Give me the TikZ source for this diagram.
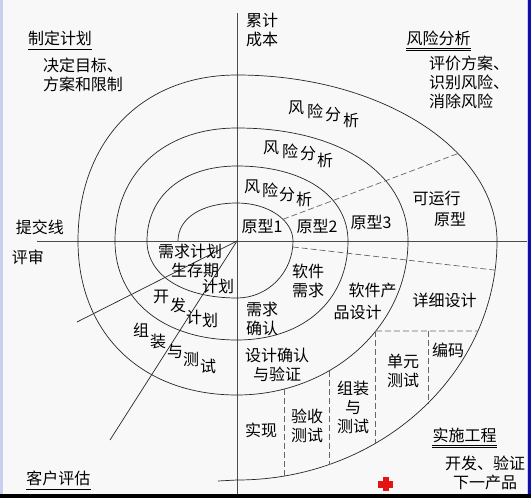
\documentclass[tikz,border=0pt]{standalone}
\usepackage{fontspec}
\setmainfont{Noto Sans CJK SC}
\definecolor{bgc}{RGB}{248,248,248}
\definecolor{leftc}{RGB}{200,208,240}
\definecolor{rightc}{RGB}{16,16,168}
\definecolor{plusred}{RGB}{228,20,20}
% quarter of the spiral, from the horizontal axis (x=#1) to the vertical axis (y=#2)
\newcommand{\spk}{0.6}
\newcommand{\qhv}[2]{.. controls (#1,{241+\spk*(#2-241)}) and ({237+\spk*(#1-237)},#2) .. (237,#2)}
% and from the vertical axis (y=#1) to the horizontal axis (x=#2)
\newcommand{\qvh}[2]{.. controls ({237+\spk*(#2-237)},#1) and (#2,{241+\spk*(#1-241)}) .. (#2,241)}
\tikzset{
  spiral/.style={line width=0.7pt, black!85},
  axis/.style={line width=0.7pt, black!70},
  dashln/.style={line width=0.7pt, black!60, dash pattern=on 6pt off 3pt},
  txt/.style={inner sep=0pt, font=\fontsize{16}{19}\selectfont, align=center},
  uline/.style={line width=0.6pt, double=bgc, double distance=1.2pt}
}

\begin{document}
\begin{tikzpicture}[x=1pt,y=-1pt]
	\useasboundingbox (0,0) rectangle (531,498);
	\fill[bgc] (0,0) rectangle (531,498);
	\fill[leftc] (0,0) rectangle (3,494);
	\fill[leftc] (526.5,0) rectangle (528,494);
	\fill[rightc] (528,0) rectangle (531,494);
	\fill[black] (0,494) rectangle (531,498);
	% axes
	\coordinate (O) at (237,241);
	\draw[axis] (237,13) -- (237,494);
	\draw[axis] (37,241) -- (527,241);
	% spiral
	\draw[spiral] (178,241) \qhv{178}{203}
	arc[start angle=270, end angle=360, x radius=56, y radius=38]
	arc[start angle=0, end angle=90, x radius=56, y radius=57]
	\qvh{298}{147} \qhv{147}{166} \qvh{166}{348} \qhv{348}{340}
	\qvh{340}{115} \qhv{115}{128} \qvh{128}{408}
	arc[start angle=0, end angle=90, x radius=171, y radius=154]
	\qvh{395}{78} \qhv{78}{75}
	arc[start angle=270, end angle=360, x radius=260, y radius=166]
	arc[start angle=0, end angle=90, x radius=260, y radius=239] -- (218,481);
	% lines from the centre
	\coordinate (l1) at (77,322);
	\coordinate (l2) at (110,440);
	\draw[spiral] (O) -- (l1);
	\draw[spiral] (O) -- (l2);
	% dashed lines, ends on the turns of the spiral
	\begin{scope}[shift={(O)}]
		\draw[dashln] (325.2:56 and 38) -- (328.2:260 and 166);
		\draw[dashln] (6:56 and 57) -- (7:260 and 239);
		\coordinate (hs) at (35.75:171 and 154);
		\draw[dashln] (hs) -- (22.1:260 and 239);
		\foreach \dx in {47,92}
			\draw[dashln] (\dx,{154*sqrt(1-(\dx/171)^2)}) -- (\dx,{239*sqrt(1-(\dx/260)^2)});
		\foreach \dx in {138.8,191}
			\draw[dashln] (\dx,90) -- (\dx,{239*sqrt(1-(\dx/260)^2)});
	\end{scope}
	% corner labels
	\node[txt] (cost) at (262,30) {累计\\成本};
	\node[txt] (plan) at (60,38.5) {制定计划};
	\draw[uline] ([yshift=-4pt]plan.south west) -- ([yshift=-4pt]plan.south east);
	\node[txt, align=left] (goal) at (83,75) {决定目标、\\方案和限制};
	\node[txt] (risk) at (438.5,38) {风险分析};
	\draw[uline] ([yshift=-4pt]risk.south west) -- ([yshift=-4pt]risk.south east);
	\node[txt, align=left] (evalr) at (469,82) {评价方案、\\识别风险、\\消除风险};
	\node[txt] (submit) at (40,227) {提交线};
	\node[txt] (review) at (28,257) {评审};
	\node[txt] (eng) at (464.5,435) {实施工程};
	\draw[uline] ([yshift=-4pt]eng.south west) -- ([yshift=-4pt]eng.south east);
	\node[txt] (nextp) at (485,472.5) {开发、验证\\下一产品};
	\node[txt] (client) at (58.5,478.5) {客户评估};
	\draw[uline] ([yshift=-4pt]client.south west) -- ([yshift=-4pt]client.south east);
	% risk analysis, one per turn
	\foreach \c/\x/\y [count=\i] in {风/296/108, 险/315/111, 分/333/115, 析/351/120}
		\node[txt] (ra\i) at (\x,\y) {\c};
	\foreach \c/\x/\y [count=\i] in {风/271/148, 险/290/151, 分/308/154, 析/325/160}
		\node[txt] (rb\i) at (\x,\y) {\c};
	\foreach \c/\x/\y [count=\i] in {风/252/187, 险/270/190, 分/287/195, 析/304/199}
		\node[txt] (rr\i) at (\x,\y) {\c};
	% prototypes
	\node[txt] (proto1) at (262,226) {原型1};
	\node[txt] (proto2) at (317,226) {原型2};
	\node[txt] (proto3) at (371,222) {原型3};
	\node[txt] (oper1) at (436.5,198) {可运行};
	\node[txt] (oper2) at (450,219.5) {原型};
	% plans
	\node[txt] (reqplan) at (190,251.5) {需求计划};
	\node[txt] (life) at (195,270) {生存期};
	\node[txt] (lifeplan) at (218,286.5) {计划};
	\foreach \c/\x/\y [count=\i] in {开/161/297, 发/178/305, 计/194/317, 划/210/320}
		\node[txt] (dp\i) at (\x,\y) {\c};
	\foreach \c/\x/\y [count=\i] in {组/141/330, 装/158/341, 与/175/352, 测/191/359, 试/208/366}
		\node[txt] (ta\i) at (\x,\y) {\c};
	% engineering
	\node[txt] (swreq) at (308,281) {软件\\需求};
	\node[txt] (reqok) at (262,319) {需求\\确认};
	\node[txt] (pd1) at (372.5,290.5) {软件产};
	\node[txt] (pd2) at (357.5,312.5) {品设计};
	\node[txt] (detail) at (444.5,300.5) {详细设计};
	\node[txt] (dver) at (277,364.5) {设计确认\\与验证};
	\node[txt] (unit) at (403,370.5) {单元\\测试};
	\node[txt] (code) at (448,350) {编码};
	\node[txt] (integ) at (353,407.5) {组装\\与\\测试};
	\node[txt] (accept) at (307,425.5) {验收\\测试};
	\node[txt] (impl) at (261,430.5) {实现};
	% red mark
	\fill[plusred] (383,477) rectangle (389,491);
	\fill[plusred] (378,481) rectangle (393,488);
\end{tikzpicture}
\end{document}
